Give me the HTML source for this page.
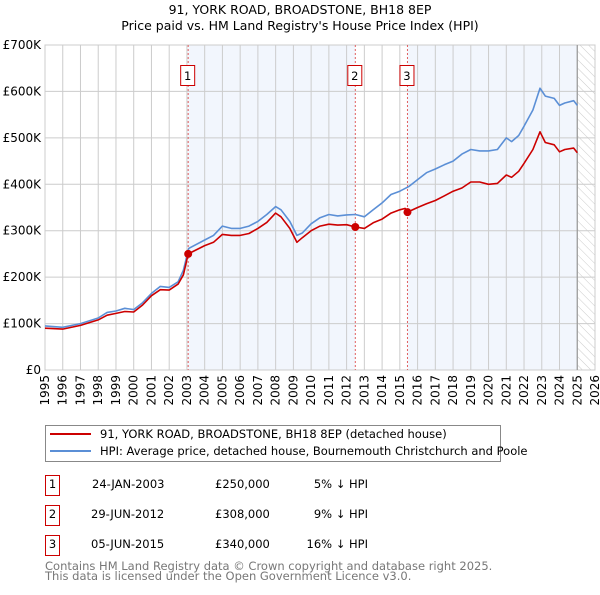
<!DOCTYPE html>
<html><head><meta charset="utf-8"><style>
body{margin:0;background:#fff;font-family:"Liberation Sans","DejaVu Sans",sans-serif}
svg text{font-family:"DejaVu Sans","Liberation Sans",sans-serif}
</style></head><body>
<svg id="c" width="600" height="590" xmlns="http://www.w3.org/2000/svg">
<defs><pattern id="hatch" width="6" height="6" patternUnits="userSpaceOnUse" patternTransform="rotate(-45)"><line x1="0" y1="0" x2="0" y2="6" stroke="#ccc" stroke-width="1"/></pattern></defs>
<text x="300" y="14" text-anchor="middle" font-size="12.5">91, YORK ROAD, BROADSTONE, BH18 8EP</text>
<text x="300" y="30" text-anchor="middle" font-size="12.5">Price paid vs. HM Land Registry's House Price Index (HPI)</text>
<g id="plot"></g>
<g>
<rect x="45.5" y="425.5" width="455" height="36" fill="#fff" stroke="#888"/>
<line x1="50" y1="434" x2="91" y2="434" stroke="#cc0000" stroke-width="2"/>
<text x="100" y="438" font-size="11.5">91, YORK ROAD, BROADSTONE, BH18 8EP (detached house)</text>
<line x1="50" y1="451" x2="91" y2="451" stroke="#5b8fd6" stroke-width="2"/>
<text x="100" y="455" font-size="11.5">HPI: Average price, detached house, Bournemouth Christchurch and Poole</text>
</g>
<g font-size="11.5">
<rect x="45.5" y="475.5" width="14" height="20" fill="#fff" stroke="#cc0000"/><text x="52.5" y="488" text-anchor="middle">1</text>
<text x="92" y="488">24-JAN-2003</text><text x="215" y="488">£250,000</text><text x="368" y="488" text-anchor="end">5% ↓ HPI</text>
<rect x="45.5" y="505.5" width="14" height="20" fill="#fff" stroke="#cc0000"/><text x="52.5" y="518" text-anchor="middle">2</text>
<text x="91" y="518">29-JUN-2012</text><text x="215" y="518">£308,000</text><text x="368" y="518" text-anchor="end">9% ↓ HPI</text>
<rect x="45.5" y="535.5" width="14" height="20" fill="#fff" stroke="#cc0000"/><text x="52.5" y="548" text-anchor="middle">3</text>
<text x="91" y="548">05-JUN-2015</text><text x="215" y="548">£340,000</text><text x="368" y="548" text-anchor="end">16% ↓ HPI</text>
</g>
<text x="45" y="570" font-size="11.5" fill="#777">Contains HM Land Registry data © Crown copyright and database right 2025.</text>
<text x="45" y="580" font-size="11.5" fill="#777">This data is licensed under the Open Government Licence v3.0.</text>
</svg>
<script>
const hpiYears=[1995,1996,1997,1998,1998.5,1999,1999.5,2000,2000.5,2001,2001.5,2002,2002.5,2002.8,2003.1,2004,2004.5,2005,2005.5,2006,2006.5,2007,2007.5,2008,2008.3,2008.8,2009.2,2009.5,2010,2010.5,2011,2011.5,2012,2012.5,2013,2013.5,2014,2014.5,2015,2015.5,2016,2016.5,2017,2017.5,2018,2018.5,2019,2019.5,2020,2020.5,2021,2021.3,2021.7,2022,2022.5,2022.9,2023.2,2023.7,2024,2024.3,2024.8,2025];
const hpiValues=[95,92,100,112,124,127,133,130,145,165,180,178,190,215,262,280,290,310,305,305,310,320,335,352,345,320,290,295,315,328,335,332,334,335,330,345,360,378,385,395,410,425,433,442,450,465,475,472,472,475,500,492,505,525,560,607,590,585,570,575,580,570];
const ppYears=[1995,1996,1997,1998,1998.5,1999,1999.5,2000,2000.5,2001,2001.5,2002,2002.5,2002.8,2003.07,2004,2004.5,2005,2005.5,2006,2006.5,2007,2007.5,2008,2008.3,2008.8,2009.2,2009.5,2010,2010.5,2011,2011.5,2012,2012.49,2013,2013.5,2014,2014.5,2015,2015.3,2015.43,2016,2016.5,2017,2017.5,2018,2018.5,2019,2019.5,2020,2020.5,2021,2021.3,2021.7,2022,2022.5,2022.9,2023.2,2023.7,2024,2024.3,2024.8,2025];
const ppValues=[90,88,96,108,118,122,126,125,140,160,173,172,185,205,250,268,275,292,290,290,294,305,318,338,330,305,275,285,300,310,314,312,313,308,305,317,325,338,345,348,340,350,358,365,375,385,392,405,405,400,402,420,415,428,445,475,513,490,485,470,475,478,468];
const saleLabels=["1","2","3"];
const saleYears=[2003.07,2012.49,2015.43];
const saleValues=[250,308,340];
const yTicks=[0,100,200,300,400,500,600,700];
const yTickLabels=["£0","£100K","£200K","£300K","£400K","£500K","£600K","£700K"];
const xTicks=[1995,1996,1997,1998,1999,2000,2001,2002,2003,2004,2005,2006,2007,2008,2009,2010,2011,2012,2013,2014,2015,2016,2017,2018,2019,2020,2021,2022,2023,2024,2025,2026];
const L=45,R=595,T=45,B=370,X0=1995,X1=2026,YMAX=700,DATA_END=2025.0;
const xs=v=>L+(v-X0)/(X1-X0)*(R-L);
const ys=v=>B-v/YMAX*(B-T);
const NS="http://www.w3.org/2000/svg";
const g=document.getElementById('plot');
function mk(t,a,p){const e=document.createElementNS(NS,t);for(const k in a)e.setAttribute(k,a[k]);(p||g).appendChild(e);return e;}
let sh=mk('rect',{x:xs(saleYears[0]),y:T,width:xs(saleYears[1])-xs(saleYears[0]),height:B-T,fill:'#eef3fc',opacity:0.75});


let sh2=mk('rect',{x:xs(saleYears[2]),y:T,width:xs(DATA_END)-xs(saleYears[2]),height:B-T,fill:'#eef3fc',opacity:0.75});


let ht=mk('rect',{x:xs(DATA_END),y:T,width:R-xs(DATA_END),height:B-T,fill:'url(#hatch)'});


yTicks.forEach((v,i)=>{
 const l=mk('line',{x1:L,x2:R,y1:ys(v),y2:ys(v),stroke:'#ccc','stroke-width':1});
 
 
 const t=mk('text',{x:L-4,y:ys(v)+4,'text-anchor':'end','font-size':12});
 t.textContent=yTickLabels[i];
 
 
});
xTicks.forEach(v=>{
 const l=mk('line',{x1:xs(v),x2:xs(v),y1:T,y2:B,stroke:'#ccc','stroke-width':1});
 
 
 const t=mk('text',{x:0,y:0,'text-anchor':'end','font-size':12,transform:`translate(${xs(v)+4},${B+5}) rotate(-90)`});
 t.textContent=v;
 
 
});
let fr=mk('rect',{x:L,y:T,width:R-L,height:B-T,fill:'none',stroke:'#ccc'});


let de=mk('line',{x1:xs(DATA_END),x2:xs(DATA_END),y1:T,y2:B,stroke:'#999','stroke-width':1.2});


saleYears.forEach((y,i)=>{
 const l=mk('line',{x1:xs(y),x2:xs(y),y1:T,y2:B,stroke:'#e06060','stroke-width':1,'stroke-dasharray':'2,2'});
 
 
 const r=mk('rect',{x:xs(y)-7.5,y:65.5,width:14,height:20,fill:'#fff',stroke:'#cc0000'});
 
 
 const t=mk('text',{x:xs(y)-0.5,y:80,'text-anchor':'middle','font-size':11.5});
 t.textContent=saleLabels[i];
 
 
});
function line(xa,va,col,name){
 const d=xa.map((x,i)=>(i?'L':'M')+xs(x).toFixed(1)+','+ys(va[i]).toFixed(1)).join('');
 const p=mk('path',{d:d,fill:'none',stroke:col,'stroke-width':1.6,'stroke-linejoin':'round'});
 
 
}
line(hpiYears,hpiValues,'#5b8fd6','hpi-line');
line(ppYears,ppValues,'#cc0000','price-paid-line');
saleYears.forEach((y,i)=>{
 const c=mk('circle',{cx:xs(y),cy:ys(saleValues[i]),r:4,fill:'#cc0000'});
 
 
});
</script>
</body></html>
